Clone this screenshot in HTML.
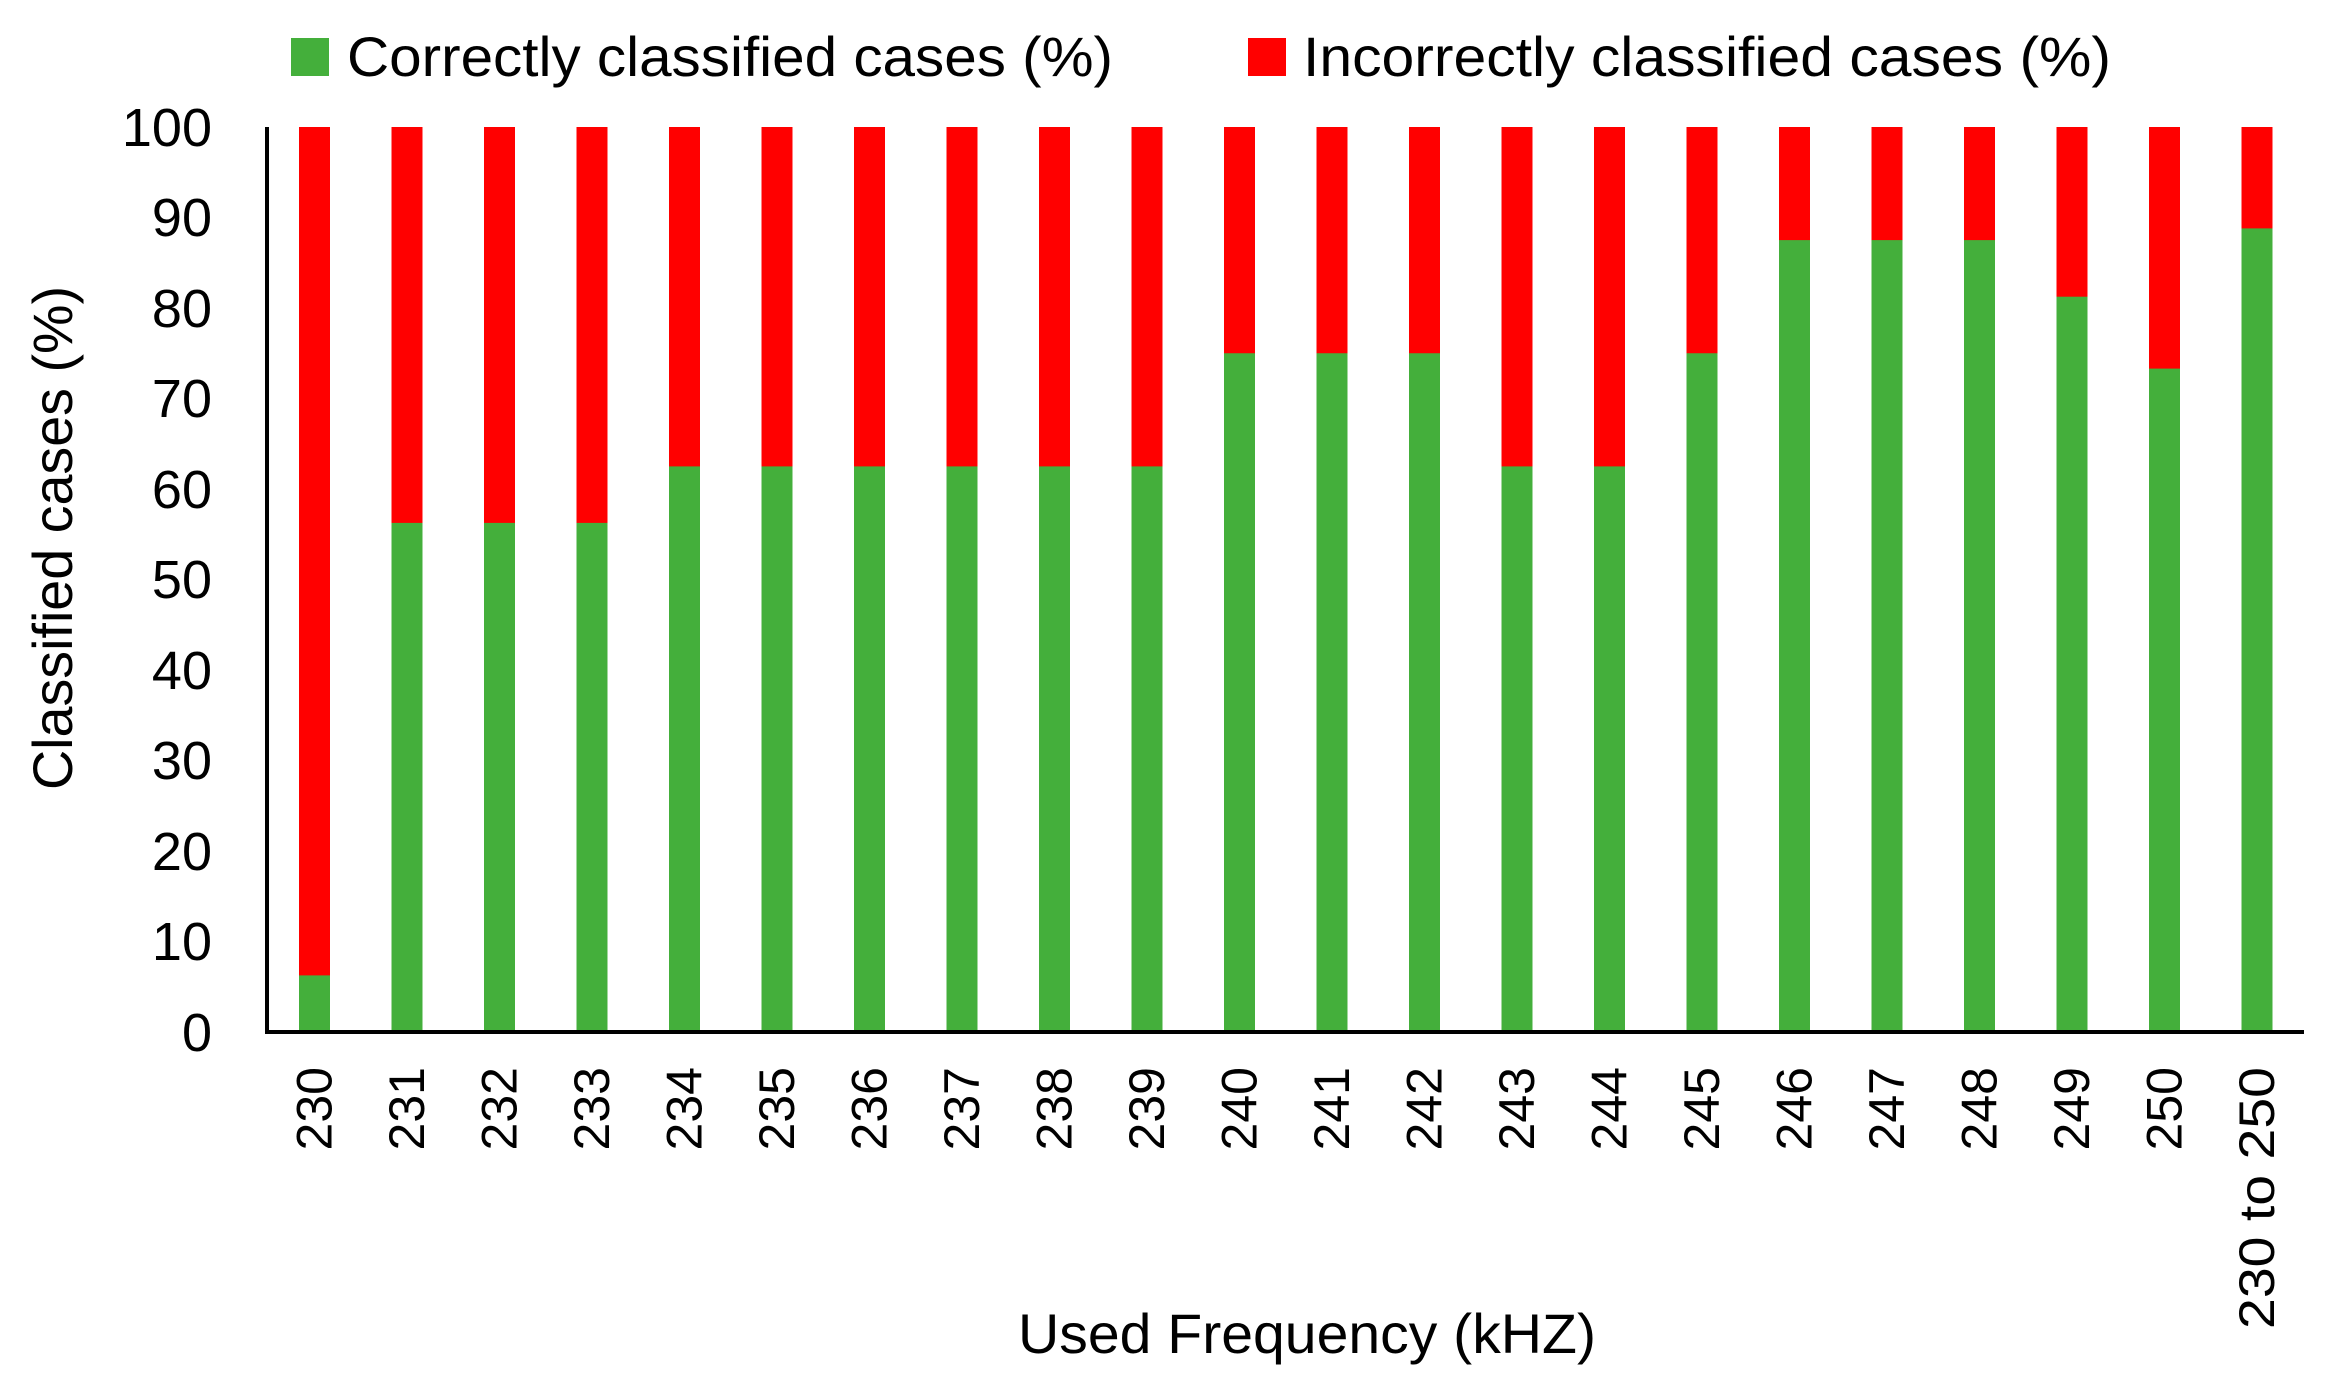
<!DOCTYPE html>
<html><head><meta charset="utf-8"><style>html,body{margin:0;padding:0;background:#fff}svg{display:block}</style></head>
<body>
<svg width="2332" height="1389" viewBox="0 0 2332 1389" xmlns="http://www.w3.org/2000/svg" font-family="'Liberation Sans', sans-serif" fill="#000">
<rect width="2332" height="1389" fill="#fff"/>
<rect x="291" y="38" width="38" height="38" fill="#44AF3B"/>
<text x="347" y="76" font-size="56" textLength="766" lengthAdjust="spacingAndGlyphs">Correctly classified cases (%)</text>
<rect x="1248" y="38" width="38" height="38" fill="#FF0000"/>
<text x="1303" y="76" font-size="56" textLength="808" lengthAdjust="spacingAndGlyphs">Incorrectly classified cases (%)</text>
<g font-size="54" text-anchor="end">
<text x="212" y="1051">0</text>
<text x="212" y="960">10</text>
<text x="212" y="870">20</text>
<text x="212" y="779">30</text>
<text x="212" y="689">40</text>
<text x="212" y="598">50</text>
<text x="212" y="508">60</text>
<text x="212" y="417">70</text>
<text x="212" y="327">80</text>
<text x="212" y="236">90</text>
<text x="212" y="146">100</text>
</g>
<text transform="translate(72,538) rotate(-90)" font-size="56" text-anchor="middle" textLength="504" lengthAdjust="spacingAndGlyphs">Classified cases (%)</text>
<text x="1307" y="1353" font-size="56" text-anchor="middle" textLength="578" lengthAdjust="spacingAndGlyphs">Used Frequency (kHZ)</text>
<g fill="#FF0000">
<rect x="299" y="127" width="31" height="905"/>
<rect x="391.5" y="127" width="31" height="905"/>
<rect x="484" y="127" width="31" height="905"/>
<rect x="576.5" y="127" width="31" height="905"/>
<rect x="669" y="127" width="31" height="905"/>
<rect x="761.5" y="127" width="31" height="905"/>
<rect x="854" y="127" width="31" height="905"/>
<rect x="946.5" y="127" width="31" height="905"/>
<rect x="1039" y="127" width="31" height="905"/>
<rect x="1131.5" y="127" width="31" height="905"/>
<rect x="1224" y="127" width="31" height="905"/>
<rect x="1316.5" y="127" width="31" height="905"/>
<rect x="1409" y="127" width="31" height="905"/>
<rect x="1501.5" y="127" width="31" height="905"/>
<rect x="1594" y="127" width="31" height="905"/>
<rect x="1686.5" y="127" width="31" height="905"/>
<rect x="1779" y="127" width="31" height="905"/>
<rect x="1871.5" y="127" width="31" height="905"/>
<rect x="1964" y="127" width="31" height="905"/>
<rect x="2056.5" y="127" width="31" height="905"/>
<rect x="2149" y="127" width="31" height="905"/>
<rect x="2241.5" y="127" width="31" height="905"/>
</g>
<g fill="#44AF3B">
<rect x="299" y="975.4" width="31" height="56.6"/>
<rect x="391.5" y="522.9" width="31" height="509.1"/>
<rect x="484" y="522.9" width="31" height="509.1"/>
<rect x="576.5" y="522.9" width="31" height="509.1"/>
<rect x="669" y="466.4" width="31" height="565.6"/>
<rect x="761.5" y="466.4" width="31" height="565.6"/>
<rect x="854" y="466.4" width="31" height="565.6"/>
<rect x="946.5" y="466.4" width="31" height="565.6"/>
<rect x="1039" y="466.4" width="31" height="565.6"/>
<rect x="1131.5" y="466.4" width="31" height="565.6"/>
<rect x="1224" y="353.25" width="31" height="678.75"/>
<rect x="1316.5" y="353.25" width="31" height="678.75"/>
<rect x="1409" y="353.25" width="31" height="678.75"/>
<rect x="1501.5" y="466.4" width="31" height="565.6"/>
<rect x="1594" y="466.4" width="31" height="565.6"/>
<rect x="1686.5" y="353.25" width="31" height="678.75"/>
<rect x="1779" y="240.1" width="31" height="791.9"/>
<rect x="1871.5" y="240.1" width="31" height="791.9"/>
<rect x="1964" y="240.1" width="31" height="791.9"/>
<rect x="2056.5" y="296.7" width="31" height="735.3"/>
<rect x="2149" y="368.6" width="31" height="663.4"/>
<rect x="2241.5" y="228.4" width="31" height="803.6"/>
</g>
<g font-size="50" text-anchor="end">
<text transform="translate(331.5,1067) rotate(-90)">230</text>
<text transform="translate(424,1067) rotate(-90)">231</text>
<text transform="translate(516.5,1067) rotate(-90)">232</text>
<text transform="translate(609,1067) rotate(-90)">233</text>
<text transform="translate(701.5,1067) rotate(-90)">234</text>
<text transform="translate(794,1067) rotate(-90)">235</text>
<text transform="translate(886.5,1067) rotate(-90)">236</text>
<text transform="translate(979,1067) rotate(-90)">237</text>
<text transform="translate(1071.5,1067) rotate(-90)">238</text>
<text transform="translate(1164,1067) rotate(-90)">239</text>
<text transform="translate(1256.5,1067) rotate(-90)">240</text>
<text transform="translate(1349,1067) rotate(-90)">241</text>
<text transform="translate(1441.5,1067) rotate(-90)">242</text>
<text transform="translate(1534,1067) rotate(-90)">243</text>
<text transform="translate(1626.5,1067) rotate(-90)">244</text>
<text transform="translate(1719,1067) rotate(-90)">245</text>
<text transform="translate(1811.5,1067) rotate(-90)">246</text>
<text transform="translate(1904,1067) rotate(-90)">247</text>
<text transform="translate(1996.5,1067) rotate(-90)">248</text>
<text transform="translate(2089,1067) rotate(-90)">249</text>
<text transform="translate(2181.5,1067) rotate(-90)">250</text>
<text transform="translate(2274,1067) rotate(-90)" textLength="262" lengthAdjust="spacingAndGlyphs">230 to 250</text>
</g>
<line x1="267" y1="127" x2="267" y2="1034" stroke="#000" stroke-width="4"/>
<line x1="265" y1="1032" x2="2304" y2="1032" stroke="#000" stroke-width="4"/>
</svg>
</body></html>
